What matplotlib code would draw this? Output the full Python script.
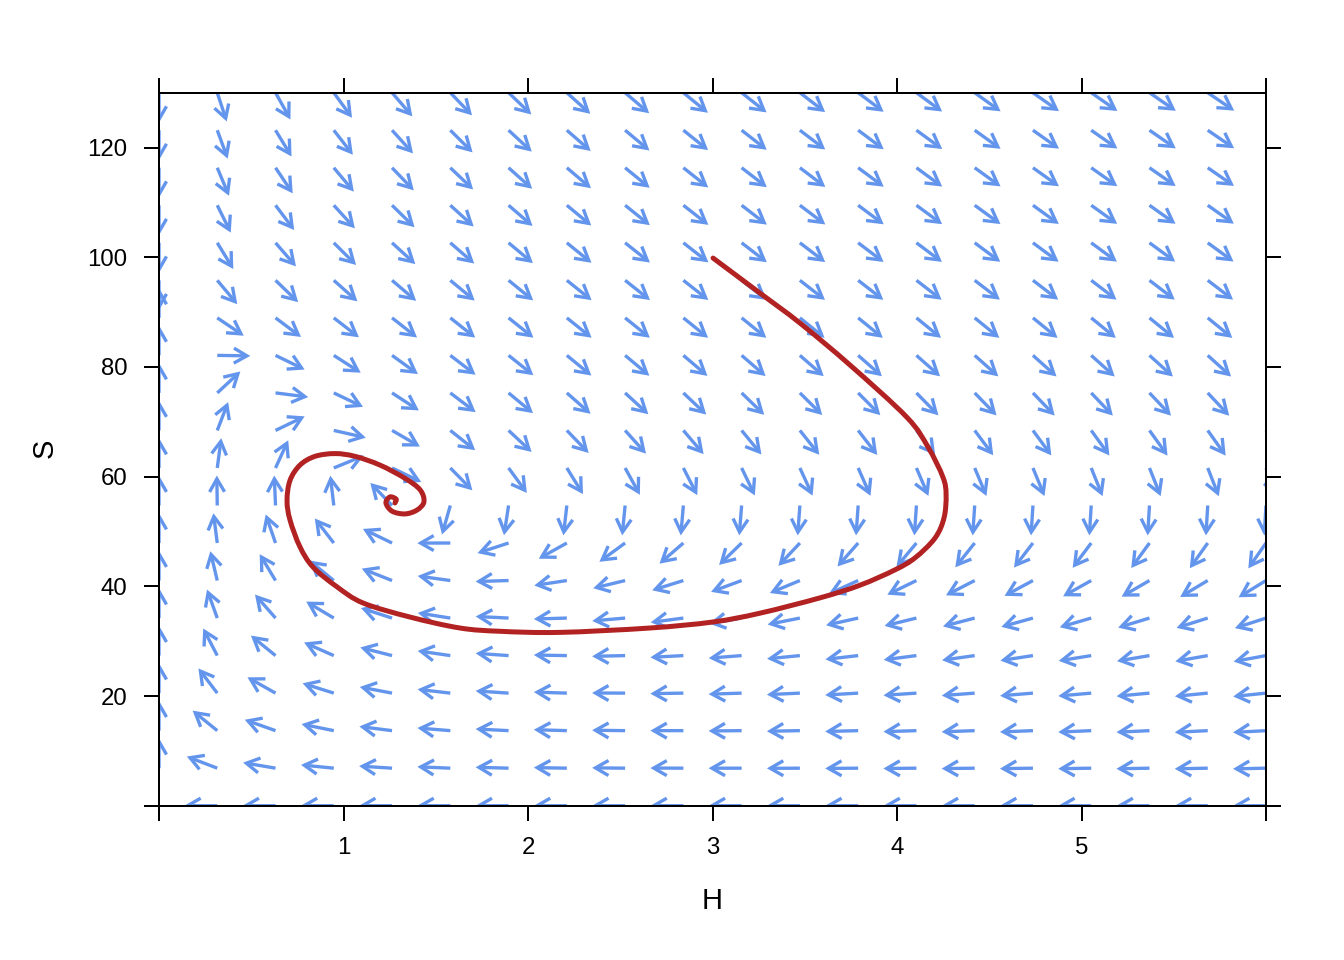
import numpy as np
import matplotlib
matplotlib.use("Agg")
import matplotlib.pyplot as plt
from matplotlib.patches import FancyArrowPatch, ArrowStyle, PathPatch
from matplotlib.path import Path

# ---- model parameters (prey S logistic, consumer H) ----
r_growth = 0.335
K_cap = 90.5
a_attack = 0.1
b_conv = 0.0096
m_mort = 0.533

# ---- flow field grid ----
H_grid = np.linspace(0, 6, 20)
S_grid = np.linspace(0, 130, 20)

# ---- trajectory ----
traj_H = [3.003, 3.257, 3.474, 3.745, 4.054, 4.168, 4.249, 4.266, 4.255, 4.206,
          4.098, 3.989, 3.799, 3.583, 3.257, 3.003, 2.661, 2.173, 1.848, 1.631,
          1.360, 1.106, 0.965, 0.835, 0.764, 0.710, 0.694, 0.710, 0.764, 0.846,
          0.954, 1.062, 1.198, 1.333, 1.415, 1.436, 1.398, 1.333, 1.263, 1.230,
          1.252, 1.285, 1.279]
traj_S = [99.85, 93.47, 88.0, 80.35, 70.8, 65.4, 59.9, 56.7, 52.5, 48.8,
          45.2, 43.0, 40.2, 37.9, 35.1, 33.5, 32.4, 31.6, 31.8, 32.4,
          34.4, 36.96, 39.9, 43.5, 47.2, 52.1, 55.6, 59.3, 62.1, 63.7,
          64.2, 63.7, 62.1, 59.7, 57.6, 55.4, 53.9, 53.2, 53.7, 55.2,
          56.3, 55.9, 55.2]

x_ticks = [0, 1, 2, 3, 4, 5, 6]
x_ticklabels = ["", "1", "2", "3", "4", "5", ""]
y_ticks = [0, 20, 40, 60, 80, 100, 120]
y_ticklabels = ["", "20", "40", "60", "80", "100", "120"]


def deriv(H, S):
    dH = H * (b_conv * S - m_mort)
    dS = r_growth * S * (1 - S / K_cap) - a_attack * S * H
    return dH, dS


plt.rcParams['font.family'] = ['Liberation Sans', 'DejaVu Sans']
fig = plt.figure(figsize=(13.44, 9.6), dpi=100)
ax = fig.add_axes([159 / 1344, 1 - 805.7 / 960, 1107 / 1344, 713 / 960])
ax.set_xlim(0, 6)
ax.set_ylim(0, 130)

arrow_col = "#6495ED"
L_h, L_v = 33.0, 30.0
style = ArrowStyle("->", head_length=9.4, head_width=5.4)
fig.canvas.draw()
T = ax.transData
Tinv = T.inverted()
for H in H_grid:
    for S in S_grid:
        dH, dS = deriv(H, S)
        if dH == 0 and dS == 0:
            continue
        p0 = T.transform((H, S))
        p1 = T.transform((H + dH, S + dS))
        v = p1 - p0
        u = v / np.hypot(*v)
        L = 1.0 / np.sqrt((u[0] / L_h) ** 2 + (u[1] / L_v) ** 2)
        end = Tinv.transform(p0 + u * L)
        arr = FancyArrowPatch((H, S), tuple(end), arrowstyle=style, mutation_scale=1,
                              lw=2.4, color=arrow_col, shrinkA=0, shrinkB=0,
                              joinstyle='miter', capstyle='butt', zorder=2)
        ax.add_patch(arr)

# smooth curve through the read trajectory points (Catmull-Rom as cubic Bezier)
P = np.column_stack([traj_H, traj_S])
Pext = np.vstack([P[0], P, P[-1]])
verts = [tuple(P[0])]
codes = [Path.MOVETO]
for i in range(1, len(Pext) - 2):
    p_prev, p0_, p1_, p_next = Pext[i - 1], Pext[i], Pext[i + 1], Pext[i + 2]
    c1 = p0_ + (p1_ - p_prev) / 6.0
    c2 = p1_ - (p_next - p0_) / 6.0
    verts += [tuple(c1), tuple(c2), tuple(p1_)]
    codes += [Path.CURVE4] * 3
traj_patch = PathPatch(Path(verts, codes), facecolor='none', edgecolor="#B22222",
                       lw=3.6, capstyle='round', joinstyle='round', zorder=3)
ax.add_patch(traj_patch)

ax.set_xticks(x_ticks)
ax.set_xticklabels(x_ticklabels)
ax.set_yticks(y_ticks)
ax.set_yticklabels(y_ticklabels)
ax.tick_params(direction='out', length=10.8, width=1.44, top=True, right=True,
               labeltop=False, labelright=False, labelsize=17.3, pad=12, color='black')
for sp in ax.spines.values():
    sp.set_linewidth(1.44)
    sp.set_zorder(5)

fig.text(712.5 / 1344, 1 - 901 / 960, "H", ha='center', va='center', fontsize=21)
fig.text(45 / 1344, 1 - 448 / 960, "S", ha='center', va='center', fontsize=21, rotation=90)

fig.savefig("out.png", dpi=100)
